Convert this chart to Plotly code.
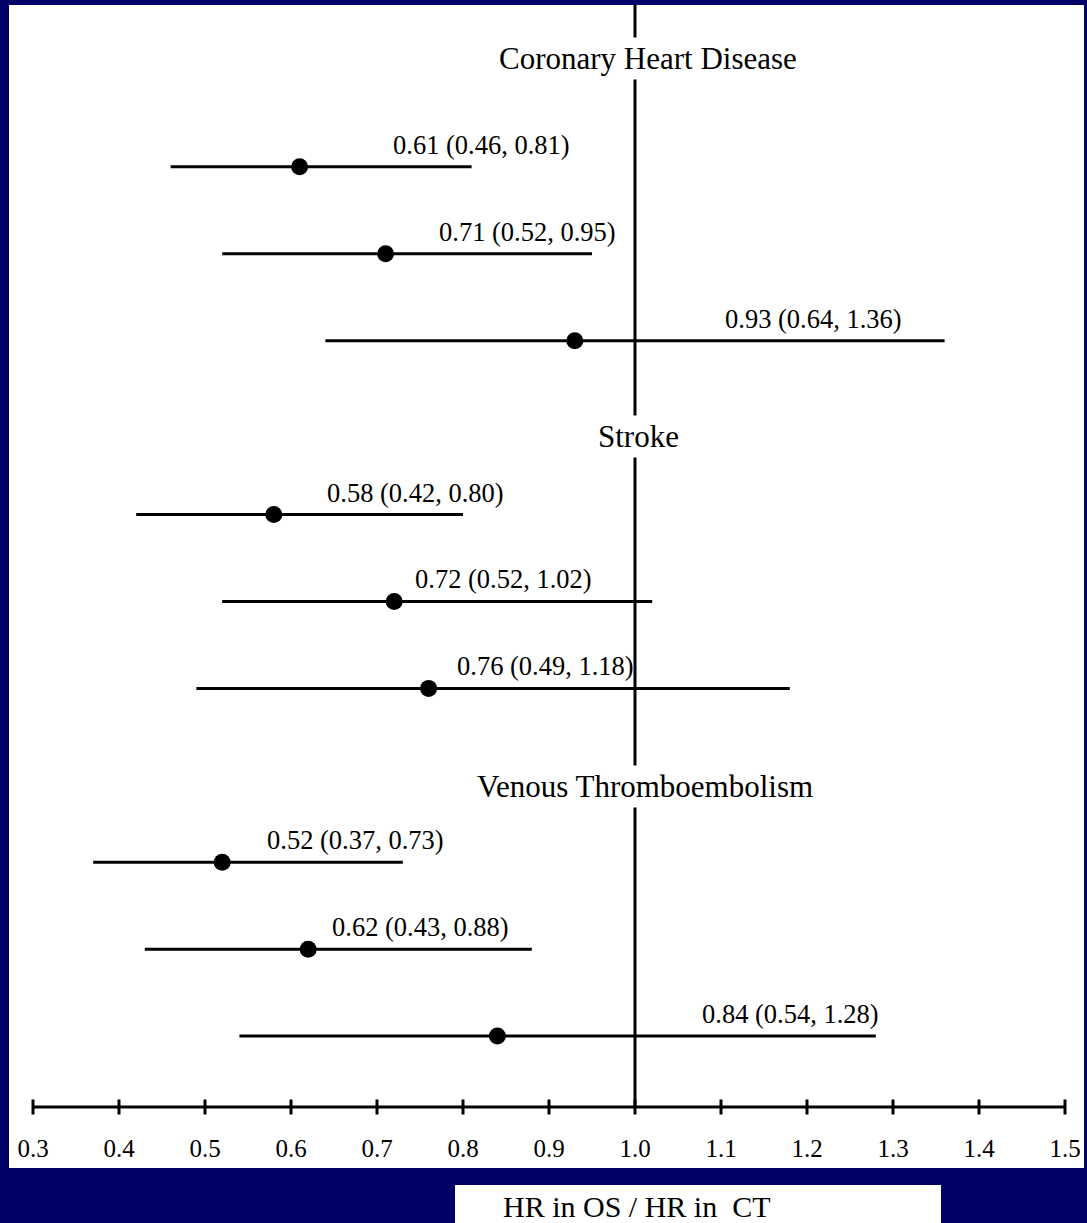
import plotly.graph_objects as go

# ---- data ----
groups = ["Coronary Heart Disease", "Stroke", "Venous Thromboembolism"]
group_of = [0, 0, 0, 1, 1, 1, 2, 2, 2]
hr = [0.61, 0.71, 0.93, 0.58, 0.72, 0.76, 0.52, 0.62, 0.84]
ci_low = [0.46, 0.52, 0.64, 0.42, 0.52, 0.49, 0.37, 0.43, 0.54]
ci_high = [0.81, 0.95, 1.36, 0.80, 1.02, 1.18, 0.73, 0.88, 1.28]
tick_vals = [0.3, 0.4, 0.5, 0.6, 0.7, 0.8, 0.9, 1.0, 1.1, 1.2, 1.3, 1.4, 1.5]
tick_text = ["0.3", "0.4", "0.5", "0.6", "0.7", "0.8", "0.9", "1.0", "1.1", "1.2", "1.3", "1.4", "1.5"]
x_title = "HR in OS / HR in  CT"

# ---- layout config (not data) ----
label_left = [0.716, 0.770, 1.102, 0.640, 0.742, 0.791, 0.570, 0.645, 1.076]
header_offset = [1.25, 0.90, 0.87]
header_xshift = [13, 3, 10]
NAVY = "#000066"
FONT = "Liberation Serif, Times New Roman, serif"

W, H = 1087, 1223
L, R, T, B = 10, W - 1083, 5, H - 1107
pw, ph = W - L - R, H - T - B


def px_x(px):
    return (px - L) / pw


def px_y(py):
    return (H - B - py) / ph


# row positions: 4 slots per group (header slot + 3 rows)
row_y = []
counts = {}
for g in group_of:
    i = counts.get(g, 0)
    row_y.append(g * 4 + i)
    counts[g] = i + 1

fig = go.Figure()

# CI lines
xs, ys = [], []
for lo, hi, y in zip(ci_low, ci_high, row_y):
    xs += [lo, hi, None]
    ys += [y, y, None]
fig.add_trace(go.Scatter(x=xs, y=ys, mode="lines",
                         line=dict(color="black", width=3),
                         hoverinfo="skip", showlegend=False))
# point estimates
fig.add_trace(go.Scatter(x=hr, y=row_y, mode="markers",
                         marker=dict(color="black", size=17),
                         showlegend=False))

shapes = []
# white panel
shapes.append(dict(type="rect", xref="paper", yref="paper",
                   x0=px_x(9), x1=px_x(1084), y0=px_y(1168), y1=px_y(5),
                   fillcolor="white", line=dict(width=0), layer="below"))
# axis-title box
shapes.append(dict(type="rect", xref="paper", yref="paper",
                   x0=px_x(455), x1=px_x(941), y0=px_y(1230), y1=px_y(1185),
                   fillcolor="white", line=dict(width=0), layer="below"))
# reference line at 1.0
shapes.append(dict(type="line", xref="x", yref="paper", x0=1.0, x1=1.0,
                   y0=0, y1=1, line=dict(color="black", width=3), layer="below"))
# axis line
shapes.append(dict(type="line", xref="x", yref="paper", x0=tick_vals[0], x1=tick_vals[-1],
                   y0=0, y1=0, line=dict(color="black", width=3)))
# ticks
for v in tick_vals:
    shapes.append(dict(type="line", xref="x", yref="paper", x0=v, x1=v,
                       y0=-7.5 / ph, y1=7.5 / ph, line=dict(color="black", width=3)))

annotations = []
for gi, name in enumerate(groups):
    first = min(y for y, g in zip(row_y, group_of) if g == gi)
    annotations.append(dict(x=1.0, y=first - header_offset[gi], xref="x", yref="y",
                            xshift=header_xshift[gi],
                            text=name, showarrow=False, bgcolor="white", borderpad=3,
                            font=dict(family=FONT, size=31, color="black")))
for h, lo, hi, y, lx in zip(hr, ci_low, ci_high, row_y, label_left):
    annotations.append(dict(x=lx, y=y, xref="x", yref="y", xanchor="left", yanchor="middle",
                            yshift=22, text=f"{h:.2f} ({lo:.2f}, {hi:.2f})", showarrow=False,
                            font=dict(family=FONT, size=26.5, color="black")))
annotations.append(dict(x=px_x(501), y=px_y(1206), xref="paper", yref="paper",
                        xanchor="left", yanchor="middle", text=x_title, showarrow=False,
                        font=dict(family=FONT, size=30, color="black")))

unit = 87
fig.update_layout(
    width=W, height=H,
    margin=dict(l=L, r=R, t=T, b=B, pad=0),
    paper_bgcolor=NAVY, plot_bgcolor="white",
    shapes=shapes, annotations=annotations,
    xaxis=dict(range=[0.3 - 23 / 860, 1.5 + 18 / 860], tickvals=tick_vals, ticktext=tick_text,
               ticks="", showgrid=False, zeroline=False, showline=False,
               ticklabelstandoff=24,
               tickfont=dict(family=FONT, size=25, color="black")),
    yaxis=dict(range=[row_y[-1] + (ph - (167 - T) - 869) / unit, -(167 - T) / unit],
               showticklabels=False, showgrid=False, zeroline=False, showline=False,
               ticks=""),
    showlegend=False,
)

fig.write_html("out.html", config={"displayModeBar": False},
               post_script="document.body.style.margin='0';document.body.style.overflow='hidden';")
